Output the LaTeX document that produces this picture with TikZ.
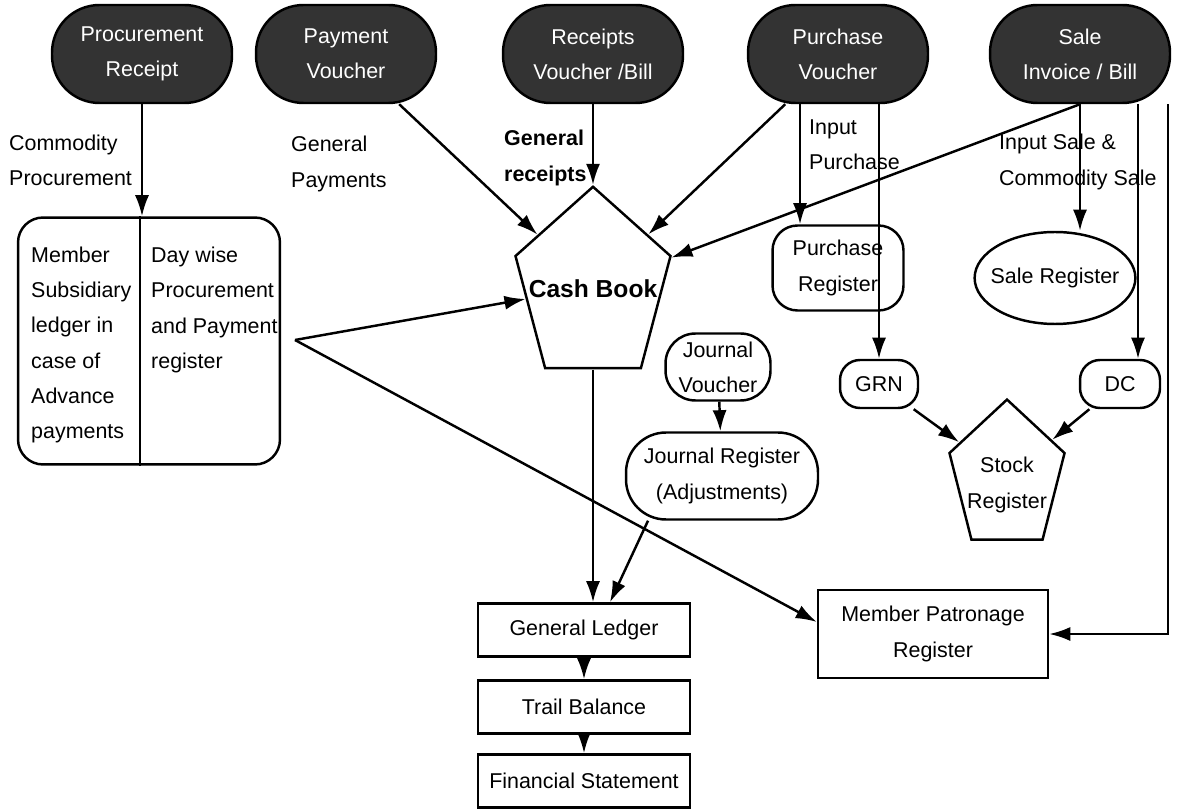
\documentclass[tikz,border=0pt]{standalone}
\usepackage{fontspec}
\setmainfont{Liberation Sans}
\usetikzlibrary{shapes.geometric,arrows.meta}

\begin{document}
\begin{tikzpicture}[x=0.02cm, y=-0.02cm, line width=1.4pt,
    txt/.style={font=\fontsize{12.2}{20}\selectfont, align=center, inner sep=0pt},
    doc/.style={txt, draw, fill=black!80, text=white, rounded corners=0.95cm,
      minimum width=3.6cm, minimum height=1.96cm},
    box/.style={txt, draw},
    note/.style={txt, align=left, anchor=west},
    pent/.style={draw, regular polygon, regular polygon sides=5, inner sep=0pt, transform shape},
    arr/.style={-{Latex[length=12pt,width=8pt]}}]
    \useasboundingbox (0,0) rectangle (1182,810);

    % Source documents
    \node[doc] (proc) at (142,54) {Procurement\\Receipt};
    \node[doc] (pay) at (346,54) {Payment\\Voucher};
    \node[doc] (rec) at (593,54) {Receipts\\Voucher /Bill};
    \node[doc] (pur) at (838,54) {Purchase\\Voucher};
    \node[doc] (sale) at (1080,54) {Sale\\Invoice / Bill};

    % Flow labels
    \node[note] (lcomm) at (8,160) {Commodity\\Procurement};
    \node[note] (lpay) at (290,164) {General\\Payments};
    \node[note, font=\fontsize{12.2}{20}\selectfont\bfseries] (lrec) at (503,158) {General\\receipts};
    \node[note] (linpur) at (808,145) {Input\\Purchase};
    \node[note] (linsale) at (998,162) {Input Sale \&\\Commodity Sale};

    % Procurement ledger (two columns)
    \node[box, rounded corners=0.5cm, minimum width=5.24cm, minimum height=4.94cm] (ledger) at (149,341) {};
    \draw ([xshift=-0.18cm]ledger.north) -- ([xshift=-0.18cm]ledger.south);
    \node[note] (member) at (30,345) {Member\\Subsidiary\\ledger in\\case of\\Advance\\payments};
    \node[note] (daywise) at (150,310) {Day wise\\Procurement\\and Payment\\register};

    % Books and registers
    \node[pent, minimum size=3.26cm, yscale=1.23] (cash) at (593,287) {};
    \node[txt, font=\fontsize{14}{16}\selectfont\bfseries] (cashtxt) at (593,289) {Cash Book};
    \node[box, rounded corners=0.5cm, minimum width=2.62cm, minimum height=1.7cm] (purreg) at (838,268) {Purchase\\Register};
    \node[box, ellipse, inner xsep=-0.15cm, minimum width=3.12cm, minimum height=1.84cm] (salereg) at (1055,278) {Sale Register};
    \node[box, rounded corners=0.6cm, minimum width=2.1cm, minimum height=1.34cm] (jv) at (718,367) {Journal\\Voucher};
    \node[box, rounded corners=0.8cm, minimum width=3.84cm, minimum height=1.74cm] (jreg) at (722,476) {Journal Register\\(Adjustments)};
    \node[box, rounded corners=0.4cm, minimum width=1.56cm, minimum height=0.96cm] (grn) at (879,384) {GRN};
    \node[box, rounded corners=0.4cm, minimum width=1.6cm, minimum height=0.96cm] (dc) at (1120,384) {DC};
    \node[pent, minimum size=2.42cm, yscale=1.28] (stock) at (1007,477) {};
    \node[txt] (stocktxt) at (1007,485) {Stock\\Register};

    % Final statements
    \node[box, minimum width=4.24cm, minimum height=1.06cm] (gl) at (584,630) {General Ledger};
    \node[box, minimum width=4.24cm, minimum height=1.06cm] (tb) at (584,707) {Trail Balance};
    \node[box, minimum width=4.24cm, minimum height=1.06cm] (fs) at (584,781) {Financial Statement};
    \node[box, minimum width=4.6cm, minimum height=1.76cm] (patron) at (933,634) {Member Patronage\\Register};

    % Arrows
    \draw[arr] (proc.south) -- (proc.south |- ledger.north);
    \draw[arr] (pay) -- (cash);
    \draw[arr] (rec) -- (cash);
    \draw[arr] (pur) -- (cash);
    \draw[arr] (sale.south) -- (cash);
    \draw[arr] ([xshift=-0.76cm]pur.south) -- ([xshift=-0.76cm]pur.south |- purreg.north);
    \draw[arr] (pur.south -| grn.north) -- (grn.north);
    \draw[arr] (sale.south) -- (sale.south |- salereg.north);
    \draw[arr] ([xshift=1.16cm]sale.south) -- ([xshift=1.16cm]sale.south |- dc.north);
    \draw[arr] ([xshift=1.76cm]sale.south) |- (patron.east);
    \draw[arr] (grn) -- (stock);
    \draw[arr] (dc) -- (stock);
    \draw[arr] (jv) -- (jreg);
    \draw[arr] (cash.south) -- (cash.south |- gl.north);
    \draw[arr] ([xshift=-1.48cm]jreg.south) -- ([xshift=0.52cm]gl.north);
    \draw[arr] (gl) -- (tb);
    \draw[arr] (tb) -- (fs);
    \coordinate (fork) at (295,340);
    \draw[arr] (fork) -- (cash);
    \draw[arr] (fork) -- ([yshift=0.24cm]patron.west);
\end{tikzpicture}
\end{document}
